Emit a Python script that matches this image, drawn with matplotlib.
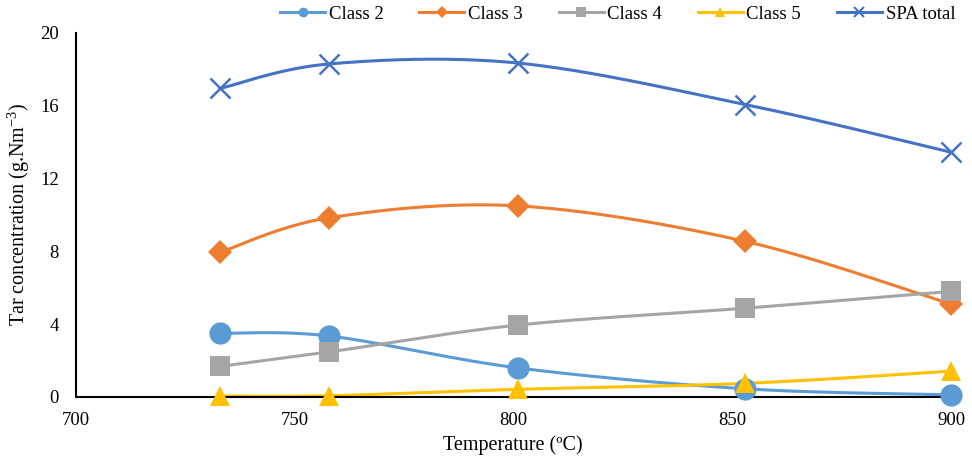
import matplotlib.pyplot as plt
import numpy as np
from matplotlib.lines import Line2D

plt.rcParams["font.family"] = ["Liberation Serif", "DejaVu Serif"]
plt.rcParams["mathtext.fontset"] = "custom"
plt.rcParams["mathtext.rm"] = "Liberation Serif"

temperature = [733, 758, 801, 853, 900]
class_2 = [3.50, 3.35, 1.60, 0.45, 0.12]
class_3 = [7.95, 9.85, 10.50, 8.55, 5.10]
class_4 = [1.68, 2.48, 3.95, 4.88, 5.80]
class_5 = [0.05, 0.07, 0.42, 0.75, 1.42]
spa_total = [16.95, 18.30, 18.35, 16.07, 13.45]

series = [
    ("Class 2", class_2, "#5B9BD5", "o", 16),
    ("Class 3", class_3, "#ED7D31", "D", 12),
    ("Class 4", class_4, "#A5A5A5", "s", 15),
    ("Class 5", class_5, "#FFC000", "^", 15),
    ("SPA total", spa_total, "#4472C4", "x", 14),
]


def smooth(x, y, n=40):
    # Catmull-Rom style bezier segments, like a spreadsheet "smoothed line"
    x = np.asarray(x, float)
    y = np.asarray(y, float)
    px = np.concatenate([[x[0]], x, [x[-1]]])
    py = np.concatenate([[y[0]], y, [y[-1]]])
    out_x, out_y = [], []
    t = np.linspace(0, 1, n)
    for i in range(len(x) - 1):
        p0 = np.array([px[i + 1], py[i + 1]])
        p3 = np.array([px[i + 2], py[i + 2]])
        p1 = p0 + (np.array([px[i + 2], py[i + 2]]) - np.array([px[i], py[i]])) / 6
        p2 = p3 - (np.array([px[i + 3], py[i + 3]]) - np.array([px[i + 1], py[i + 1]])) / 6
        b = (np.outer((1 - t) ** 3, p0) + np.outer(3 * (1 - t) ** 2 * t, p1)
             + np.outer(3 * (1 - t) * t ** 2, p2) + np.outer(t ** 3, p3))
        out_x.extend(b[:, 0])
        out_y.extend(b[:, 1])
    return out_x, out_y


fig = plt.figure(figsize=(9.72, 4.58), dpi=100)
ax = fig.add_axes([0.0777, 0.1332, 0.9007, 0.7948])

handles = []
for label, values, color, marker, size in series:
    sx, sy = smooth(temperature, values)
    ax.plot(sx, sy, color=color, lw=2.2, zorder=2, clip_on=False)
    mew = 1.8 if marker == "x" else 0
    ax.plot(temperature, values, ls="none", marker=marker, ms=size, color=color,
            mec=color, mew=mew, zorder=3, clip_on=False)
    handles.append(Line2D([0], [0], color=color, lw=2.2, marker=marker,
                          ms=7 if marker != "D" else 6, mew=1.5 if marker == "x" else 0,
                          mec=color, label=label))

ax.set_xlim(700, 900)
ax.set_ylim(0, 20)
ax.set_xticks([700, 750, 800, 850, 900])
ax.set_yticks([0, 4, 8, 12, 16, 20])
ax.tick_params(axis="x", length=0, labelsize=13.5, pad=11)
ax.tick_params(axis="y", length=0, labelsize=13.5, pad=12)
for side in ["top", "right"]:
    ax.spines[side].set_visible(False)
for side in ["left", "bottom"]:
    ax.spines[side].set_color("black")
    ax.spines[side].set_linewidth(1.5)

ax.set_xlabel("Temperature (ºC)", fontsize=14.5, labelpad=4)
ax.set_ylabel("Tar concentration (g.Nm$^{\\mathregular{-3}}$)", fontsize=14.5, labelpad=6)

fig.legend(handles=handles, loc="upper right", bbox_to_anchor=(1.0, 1.025), ncol=5,
           frameon=False, fontsize=13.5, handlelength=2.4, columnspacing=1.9,
           handletextpad=0.2)

fig.savefig("out.png", dpi=100)
